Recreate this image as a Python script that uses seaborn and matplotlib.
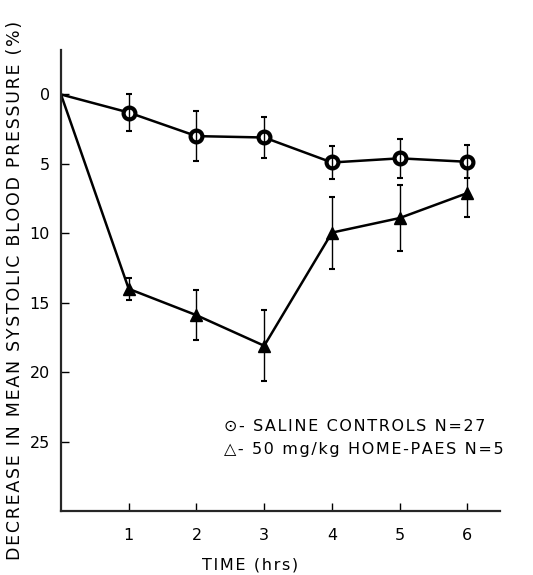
import numpy as np
import pandas as pd
import matplotlib
matplotlib.use("Agg")
import matplotlib.pyplot as plt
import seaborn as sns

# values (hours, % decrease, +/- error)
hours = [0, 1, 2, 3, 4, 5, 6]
saline_mean = [0, 1.3, 3.0, 3.1, 4.9, 4.6, 4.85]
saline_err = [0, 1.35, 1.8, 1.5, 1.2, 1.4, 1.2]
paes_mean = [0, 14.0, 15.9, 18.1, 9.95, 8.9, 7.1]
paes_err = [0, 0.8, 1.8, 2.55, 2.6, 2.35, 1.7]

x_ticks = [1, 2, 3, 4, 5, 6]
y_ticks = [0, 5, 10, 15, 20, 25]

saline = pd.DataFrame({"time": hours, "drop": saline_mean, "err": saline_err})
paes = pd.DataFrame({"time": hours, "drop": paes_mean, "err": paes_err})


def tracked(s, gap="\u200a"):
    # old typewriter-ish letter spacing
    return gap.join(s)


sns.set_style("ticks")
plt.rcParams['font.family'] = ['DejaVu Sans']
plt.rcParams.update({"text.color": "black", "axes.labelcolor": "black",
                     "xtick.color": "black", "ytick.color": "black"})

fig = plt.figure(figsize=(5.33, 5.75), dpi=100)
ax = fig.add_axes([0.1144, 0.1113, 0.8236, 0.8017])

sns.lineplot(data=saline, x="time", y="drop", ax=ax, color="black", lw=1.8,
             marker="o", markersize=8.5, markerfacecolor="white",
             markeredgecolor="black", markeredgewidth=3,
             markevery=slice(1, None))
sns.lineplot(data=paes, x="time", y="drop", ax=ax, color="black", lw=1.8,
             marker="^", markersize=9, markerfacecolor="black",
             markeredgecolor="black", markeredgewidth=1,
             markevery=slice(1, None))

for d in (saline, paes):
    d = d.iloc[1:]
    ax.errorbar(d["time"], d["drop"], yerr=d["err"], fmt="none",
                ecolor="black", elinewidth=1, capsize=2.5, capthick=1.5)

ax.set_xlim(0, 6.48)
ax.set_ylim(30, -3.2)
ax.set_xticks(x_ticks)
ax.set_yticks(y_ticks)
ax.tick_params(direction="in", length=6, width=1, labelsize=11.5)
ax.tick_params(axis="y", pad=8)
ax.tick_params(axis="x", pad=12)
sns.despine(ax=ax)
for s in ("left", "bottom"):
    ax.spines[s].set_linewidth(1.6)

ax.set_xlabel(tracked("TIME (hrs)"), fontsize=11.5)
ax.xaxis.set_label_coords(0.43, -0.118)
ax.xaxis.label.set_va("center")
ax.set_ylabel(tracked("DECREASE IN MEAN SYSTOLIC BLOOD PRESSURE (%)"),
              fontsize=12.5)
ax.yaxis.set_label_coords(-0.105, 0.478)
ax.yaxis.label.set_va("center")

ax.text(0.371, 0.184, tracked("\u2299- SALINE CONTROLS N=27"),
        transform=ax.transAxes, fontsize=11.5, va="center", ha="left")
ax.text(0.371, 0.134, tracked("\u25b3- 50 mg/kg HOME-PAES N=5"),
        transform=ax.transAxes, fontsize=11.5, va="center", ha="left")

fig.savefig("out.png", dpi=100)
